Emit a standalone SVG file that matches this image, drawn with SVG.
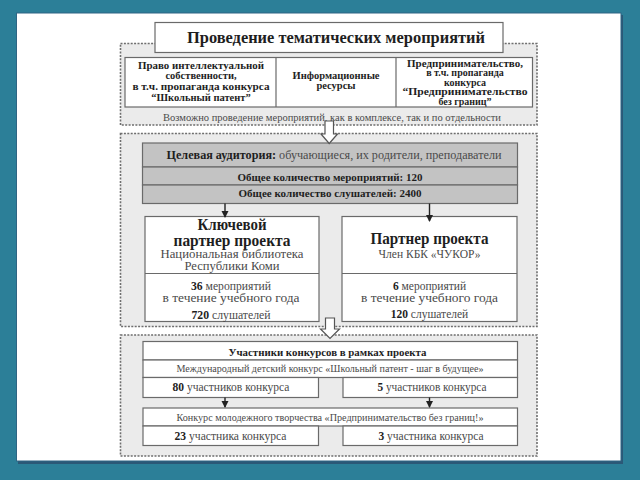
<svg xmlns="http://www.w3.org/2000/svg" width="640" height="480" viewBox="0 0 640 480" font-family="Liberation Serif">
<defs>
<style>
text{font-family:'Liberation Serif',serif;fill:#1e1e1e;text-anchor:middle}
.b{font-weight:bold}
.g{fill:#4a4a4a}
.dash{fill:#ebebeb;stroke:#6e6e6e;stroke-width:1.6;stroke-dasharray:2 1.4}
.cell{fill:#fff;stroke:#6a6a6a;stroke-width:1.2}
.bar{fill:#c3c3c3;stroke:#6a6a6a;stroke-width:1.2}
.hollow{fill:#fff;stroke:#555;stroke-width:1.2}
.arr{stroke:#222;stroke-width:1.4;fill:none}
</style>
<marker id="ah" markerWidth="8" markerHeight="8" refX="6" refY="4" orient="auto" markerUnits="userSpaceOnUse">
<path d="M0,0.5 L7,4 L0,7.5 Z" fill="#222"/>
</marker>
</defs>
<rect width="640" height="480" fill="#2c7f98"/>
<rect x="18" y="15" width="605" height="449" fill="#2b5877"/>
<rect x="16.5" y="13" width="604.5" height="448" fill="#fff" stroke="#2f6584" stroke-width="1"/>

<g id="box1">
<rect class="dash" x="120.5" y="43.5" width="416.5" height="81.5"/>
</g>
<g id="title">
<rect class="cell" x="155" y="22.5" width="348" height="30"/>
<text class="b" x="336" y="42.5" font-size="17.5" textLength="298" lengthAdjust="spacingAndGlyphs">Проведение тематических мероприятий</text>
</g>
<g id="topics">
<rect class="cell" x="125" y="57.5" width="407.5" height="49.5"/>
<line x1="276" y1="57.5" x2="276" y2="107" stroke="#6a6a6a" stroke-width="1.2"/>
<line x1="396" y1="57.5" x2="396" y2="107" stroke="#6a6a6a" stroke-width="1.2"/>
<g font-size="10.5">
<text class="b" x="201" y="68.5" textLength="126" lengthAdjust="spacingAndGlyphs">Право интеллектуальной</text>
<text class="b" x="201" y="79">собственности,</text>
<text class="b" x="201" y="89.5" textLength="137" lengthAdjust="spacingAndGlyphs">в т.ч. пропаганда конкурса</text>
<text class="b" x="201" y="100.5">“Школьный патент”</text>
<text class="b" x="336" y="79">Информационные</text>
<text class="b" x="336" y="88.5">ресурсы</text>
</g>
<g font-size="10">
<text class="b" x="465" y="66.5" textLength="116" lengthAdjust="spacingAndGlyphs">Предпринимательство,</text>
<text class="b" x="465" y="76">в т.ч. пропаганда</text>
<text class="b" x="465" y="85.5">конкурса</text>
<text class="b" x="465" y="94.7" textLength="125" lengthAdjust="spacingAndGlyphs">“Предпринимательство</text>
<text class="b" x="465" y="104.7">без границ”</text>
</g>
<text class="g" x="332" y="120.5" font-size="10.5" textLength="338" lengthAdjust="spacingAndGlyphs">Возможно проведение мероприятий, как в комплексе, так и по отдельности</text>
</g>

<g id="box2">
<rect class="dash" x="120.5" y="133.5" width="416.5" height="193"/>
</g>
<g id="audience">
<rect class="bar" x="142.5" y="143" width="375" height="24"/>
<rect class="bar" x="142.5" y="167" width="375" height="18"/>
<rect class="bar" x="142.5" y="185" width="375" height="18.5"/>
<text x="334" y="159" font-size="11.5" textLength="335" lengthAdjust="spacingAndGlyphs"><tspan class="b">Целевая аудитория:</tspan><tspan class="g"> обучающиеся, их родители, преподаватели</tspan></text>
<text class="b" x="330" y="181" font-size="10.5" textLength="185" lengthAdjust="spacingAndGlyphs">Общее количество мероприятий: 120</text>
<text class="b" x="330" y="197" font-size="10.5" textLength="183" lengthAdjust="spacingAndGlyphs">Общее количество слушателей: 2400</text>
</g>
<g id="key-partner">
<rect class="cell" x="145" y="216.5" width="174" height="105"/>
<line x1="145" y1="273.5" x2="319" y2="273.5" stroke="#6a6a6a" stroke-width="1.2"/>
<text class="b" x="232" y="230" font-size="16" textLength="69" lengthAdjust="spacingAndGlyphs">Ключевой</text>
<text class="b" x="232" y="245.5" font-size="16" textLength="117" lengthAdjust="spacingAndGlyphs">партнер проекта</text>
<text class="g" x="232" y="257.5" font-size="12" textLength="143" lengthAdjust="spacingAndGlyphs">Национальная библиотека</text>
<text class="g" x="232" y="270" font-size="12" textLength="95" lengthAdjust="spacingAndGlyphs">Республики Коми</text>
<text x="231" y="290" font-size="11.5" textLength="80" lengthAdjust="spacingAndGlyphs"><tspan class="b">36</tspan><tspan class="g"> мероприятий</tspan></text>
<text class="g" x="231" y="301.5" font-size="11.5" textLength="137" lengthAdjust="spacingAndGlyphs">в течение учебного года</text>
<text x="231" y="319" font-size="11.5" textLength="79" lengthAdjust="spacingAndGlyphs"><tspan class="b">720</tspan><tspan class="g"> слушателей</tspan></text>
</g>
<g id="partner">
<rect class="cell" x="342" y="216.5" width="175" height="105"/>
<line x1="342" y1="273.5" x2="517" y2="273.5" stroke="#6a6a6a" stroke-width="1.2"/>
<text class="b" x="429.5" y="243.5" font-size="16" textLength="118" lengthAdjust="spacingAndGlyphs">Партнер проекта</text>
<text class="g" x="429.5" y="258" font-size="13" textLength="102" lengthAdjust="spacingAndGlyphs">Член КБК «ЧУКОР»</text>
<text x="429.5" y="290" font-size="11.5"><tspan class="b">6</tspan><tspan class="g"> мероприятий</tspan></text>
<text class="g" x="429.5" y="301.5" font-size="11.5" textLength="137" lengthAdjust="spacingAndGlyphs">в течение учебного года</text>
<text x="429.5" y="317.5" font-size="11.5"><tspan class="b">120</tspan><tspan class="g"> слушателей</tspan></text>
</g>

<g id="box3">
<rect class="dash" x="120.5" y="335" width="416.5" height="121"/>
</g>
<g id="contests">
<rect class="cell" x="143" y="341.5" width="374.5" height="18.5"/>
<text class="b" x="327.5" y="355.5" font-size="10.5" textLength="198" lengthAdjust="spacingAndGlyphs">Участники конкурсов в рамках проекта</text>
<rect class="cell" x="143" y="360" width="374.5" height="17.5"/>
<text class="g" x="330" y="371.5" font-size="10" textLength="307" lengthAdjust="spacingAndGlyphs">Международный детский конкурс «Школьный патент - шаг в будущее»</text>
</g>
<g id="patent-80">
<rect class="cell" x="143" y="377.5" width="175.5" height="20"/>
<text x="231" y="391" font-size="11.5" textLength="117" lengthAdjust="spacingAndGlyphs"><tspan class="b">80</tspan><tspan class="g"> участников конкурса</tspan></text>
</g>
<g id="patent-5">
<rect class="cell" x="343" y="377.5" width="174.5" height="20"/>
<text x="432" y="391" font-size="11.5" textLength="109" lengthAdjust="spacingAndGlyphs"><tspan class="b">5</tspan><tspan class="g"> участников конкурса</tspan></text>
</g>
<g id="entrepreneur">
<rect class="cell" x="143" y="408" width="374.5" height="18"/>
<text class="g" x="330" y="421" font-size="10" textLength="307" lengthAdjust="spacingAndGlyphs">Конкурс молодежного творчества «Предпринимательство без границ!»</text>
</g>
<g id="entre-23">
<rect class="cell" x="143" y="426" width="175.5" height="19.5"/>
<text x="230.5" y="440" font-size="11.5" textLength="112" lengthAdjust="spacingAndGlyphs"><tspan class="b">23</tspan><tspan class="g"> участника конкурса</tspan></text>
</g>
<g id="entre-3">
<rect class="cell" x="343" y="426" width="174.5" height="19.5"/>
<text x="431" y="440" font-size="11.5" textLength="105" lengthAdjust="spacingAndGlyphs"><tspan class="b">3</tspan><tspan class="g"> участника конкурса</tspan></text>
</g>

<g id="connectors">
<polygon class="hollow" points="325,121 333.5,121 333.5,134 337.5,134 329.2,143.5 321,134 325,134"/>
<polygon class="hollow" points="325.5,318 334.5,318 334.5,329 339.5,329 330,338.5 320.5,329 325.5,329"/>
<line class="arr" x1="225" y1="203.5" x2="225" y2="217" marker-end="url(#ah)"/>
<line class="arr" x1="429.5" y1="203.5" x2="429.5" y2="221" marker-end="url(#ah)"/>
<line class="arr" x1="225" y1="397.5" x2="225" y2="407" marker-end="url(#ah)"/>
<line class="arr" x1="429.5" y1="397.5" x2="429.5" y2="407" marker-end="url(#ah)"/>
</g>
</svg>
